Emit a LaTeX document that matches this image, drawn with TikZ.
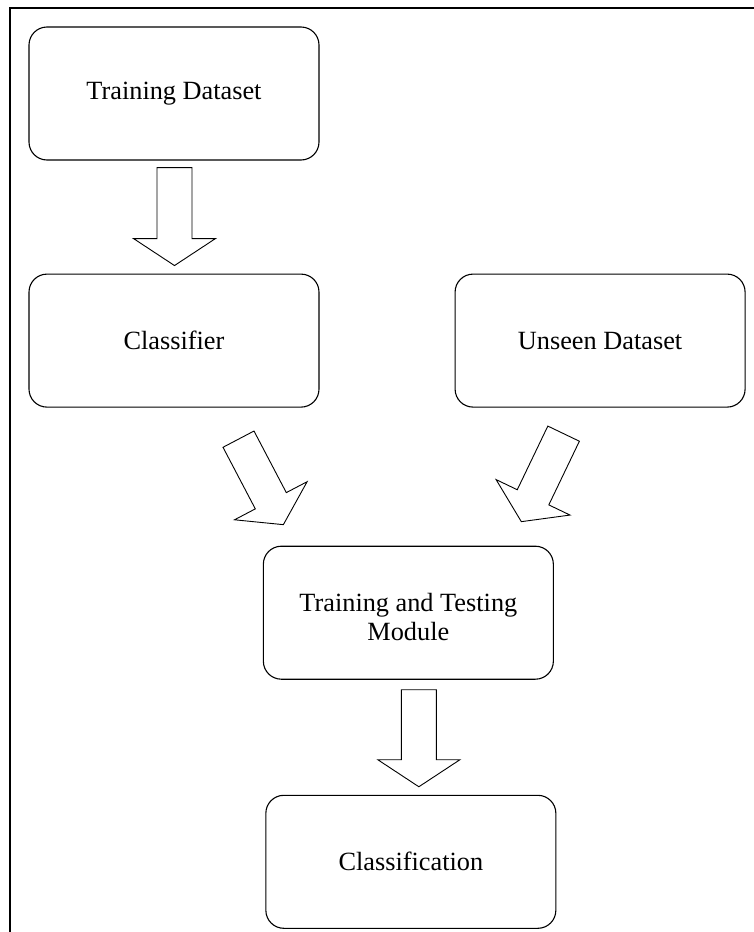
\documentclass[tikz,border=0pt]{standalone}
\usepackage{fontspec}
\setmainfont{Liberation Serif}
\usepackage{tikz}
\usetikzlibrary{positioning,calc}

% hollow block arrow from #1 (tail) to #2 (tip)
\newcommand{\blockarrow}[2]{%
  \coordinate (hb) at ($(#2)!27pt!(#1)$);
  \draw[blk] ($(#1)!17.5pt!90:(#2)$) -- ($(hb)!17.5pt!90:(#2)$) -- ($(hb)!41pt!90:(#2)$) -- (#2)
    -- ($(hb)!41pt!-90:(#2)$) -- ($(hb)!17.5pt!-90:(#2)$) -- ($(#1)!17.5pt!-90:(#2)$) -- cycle;
}

\begin{document}
\begin{tikzpicture}[
  x=1pt, y=1pt,
  node distance=113pt,
  box/.style={draw, rectangle, rounded corners=18pt, align=center, minimum width=290pt, minimum height=133pt, inner sep=0pt, line width=1.1pt, font=\fontsize{26.3}{28.5}\selectfont},
  blk/.style={line width=0.9pt, line join=miter},
  frame/.style={line width=1.4pt}
]
\useasboundingbox (0,0) rectangle (754,-932);
\coordinate (fbl) at (10,-932);
\coordinate (ftl) at (10,-8);
\coordinate (ftr) at (754,-8);
\draw[frame] (fbl) -- (ftl) -- (ftr);

\node[box] (td) at (174,-93.5) {Training Dataset};
\node[box, below=of td] (cls) {Classifier};
\node[box, right=135pt of cls] (uds) {Unseen Dataset};
\node[box, anchor=north] (ttm) at ($(cls.south)!0.55!(uds.south)+(0,-138)$) {\rule{0pt}{27pt}Training and Testing\\Module};
\node[box, below=115pt of ttm, xshift=2.5pt] (cf) {Classification};

\coordinate (a1s) at ($(td.south)+(0.5,-7)$);
\coordinate (a1e) at ($(cls.north)+(0.5,8)$);
\coordinate (a2s) at ($(cls.south)+(64.5,-31.5)$);
\coordinate (a2e) at ($(ttm.north)+(-125,21)$);
\coordinate (a3s) at ($(uds.south)+(-36.5,-26)$);
\coordinate (a3e) at ($(ttm.north)+(113,24)$);
\coordinate (a4s) at ($(ttm.south)+(10.5,-10)$);
\coordinate (a4e) at ($(cf.north)+(8,8)$);

\blockarrow{a1s}{a1e}
\blockarrow{a2s}{a2e}
\blockarrow{a3s}{a3e}
\blockarrow{a4s}{a4e}
\end{tikzpicture}
\end{document}
